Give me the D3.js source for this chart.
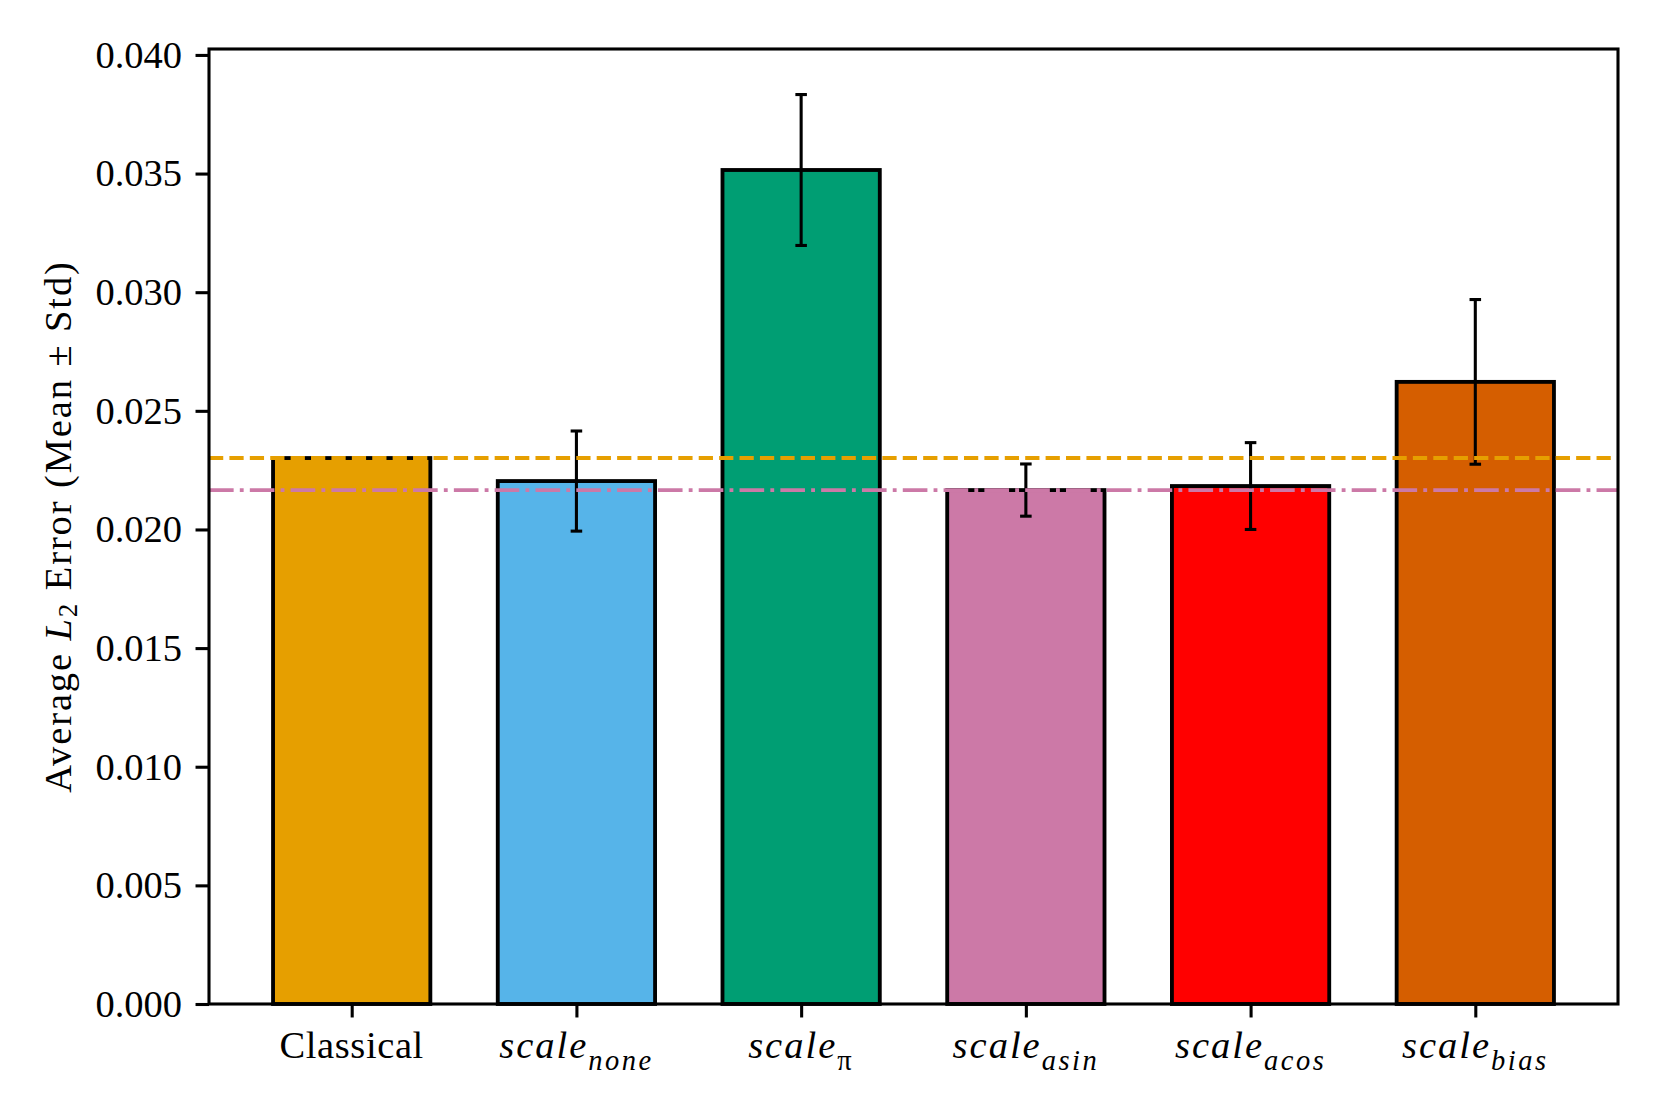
<!DOCTYPE html>
<html>
<head>
<meta charset="utf-8">
<script src="https://cdn.jsdelivr.net/npm/d3@7"></script>
<style>
  html, body { margin: 0; padding: 0; background: #fff; }
  svg { display: block; }
  text { font-family: "Liberation Serif", "DejaVu Serif", serif; fill: #000; }
</style>
</head>
<body>
<script>
// ---- data ----
const categories = ["Classical", "scale_none", "scale_pi", "scale_asin", "scale_acos", "scale_bias"];
const labelMain  = ["Classical", "scale", "scale", "scale", "scale", "scale"];
const labelSub   = ["", "none", "π", "asin", "acos", "bias"];
const means      = [0.02301, 0.02204, 0.03515, 0.02166, 0.02183, 0.02622];
const stds       = [0.0, 0.00211, 0.00318, 0.00110, 0.00183, 0.00347];
const colors     = ["#E69F00", "#56B4E9", "#009E73", "#CC79A7", "#FF0000", "#D55E00"];
const yTicks     = [0.000, 0.005, 0.010, 0.015, 0.020, 0.025, 0.030, 0.035, 0.040];
const refClassical = 0.02301;  // orange dashed line
const refBest      = 0.02166;  // pink dash-dot line

// ---- layout ----
const W = 1661, H = 1107;
const L = 209, R = 1618, T = 49, B = 1004;
const pt = 3.85; // px per point
const fs = 38.5;

const svg = d3.select("body").append("svg").attr("width", W).attr("height", H);

const x = d3.scaleLinear().domain([-0.635, 5.635]).range([L, R]);
const y = d3.scaleLinear().domain([0, 0.04025]).range([B, T]);
const bw = 0.7;

// bars
svg.append("g").selectAll("rect").data(means).join("rect")
  .attr("x", (d, i) => x(i - bw / 2))
  .attr("y", d => y(d))
  .attr("width", (d, i) => x(i + bw / 2) - x(i - bw / 2))
  .attr("height", d => y(0) - y(d))
  .attr("fill", (d, i) => colors[i])
  .attr("stroke", "#000")
  .attr("stroke-width", 1.0 * pt);

// error bars
const eg = svg.append("g").attr("stroke", "#000").attr("stroke-width", 0.8 * pt);
means.forEach((m, i) => {
  if (stds[i] <= 0) return;
  eg.append("line").attr("x1", x(i)).attr("x2", x(i)).attr("y1", y(m - stds[i])).attr("y2", y(m + stds[i]));
  [m - stds[i], m + stds[i]].forEach(v => {
    eg.append("line").attr("x1", x(i) - 1.5 * pt).attr("x2", x(i) + 1.5 * pt).attr("y1", y(v)).attr("y2", y(v));
  });
});

// reference lines
const lw = 1.0 * pt;
svg.append("line")
  .attr("x1", L).attr("x2", R).attr("y1", y(refClassical)).attr("y2", y(refClassical))
  .attr("stroke", "#E69F00").attr("stroke-width", lw)
  .attr("stroke-dasharray", [3.7 * lw, 1.6 * lw].join(","));
svg.append("line")
  .attr("x1", L).attr("x2", R).attr("y1", y(refBest)).attr("y2", y(refBest))
  .attr("stroke", "#CC79A7").attr("stroke-width", lw)
  .attr("stroke-dasharray", [6.4 * lw, 1.6 * lw, 1 * lw, 1.6 * lw].join(","));

// y axis
const yAxis = d3.axisLeft(y).tickValues(yTicks).tickFormat(d3.format(".3f"))
  .tickSize(3.5 * pt).tickPadding(3.5 * pt);
const ya = svg.append("g").attr("transform", `translate(${L},0)`).call(yAxis);
ya.select(".domain").remove();
ya.selectAll(".tick line").attr("stroke", "#000").attr("stroke-width", 0.8 * pt);
ya.selectAll(".tick text").attr("font-size", fs).attr("font-family", "Liberation Serif").attr("fill", "#000");

// x axis
const xAxis = d3.axisBottom(x).tickValues(d3.range(categories.length)).tickFormat("")
  .tickSize(3.5 * pt);
const xa = svg.append("g").attr("transform", `translate(0,${B})`).call(xAxis);
xa.select(".domain").remove();
xa.selectAll(".tick line").attr("stroke", "#000").attr("stroke-width", 0.8 * pt);

// x tick labels
categories.forEach((c, i) => {
  const t = svg.append("text")
    .attr("x", x(i)).attr("y", B + 3.5 * pt + 3.5 * pt + 27)
    .attr("text-anchor", "middle").attr("font-size", fs);
  if (labelSub[i] === "") {
    t.attr("letter-spacing", 0.6).text(labelMain[i]);
  } else {
    t.append("tspan").attr("font-style", "italic").attr("letter-spacing", 2).text(labelMain[i]);
    t.append("tspan").attr("font-style", labelSub[i] === "π" ? "normal" : "italic")
      .attr("letter-spacing", 2.5)
      .attr("font-size", fs * 0.74).attr("dy", 12).text(labelSub[i]);
  }
});

// spines
svg.append("rect").attr("x", L).attr("y", T).attr("width", R - L).attr("height", B - T)
  .attr("fill", "none").attr("stroke", "#000").attr("stroke-width", 0.8 * pt);

// y label
const yl = svg.append("text")
  .attr("transform", `translate(71,${(T + B) / 2}) rotate(-90)`)
  .attr("text-anchor", "middle").attr("font-size", fs).attr("letter-spacing", 1.9);
yl.append("tspan").text("Average ");
yl.append("tspan").attr("font-style", "italic").text("L");
yl.append("tspan").attr("font-size", fs * 0.7).attr("dy", 6).text("2");
yl.append("tspan").attr("dy", -6).text(" Error (Mean ± Std)");
</script>
</body>
</html>
